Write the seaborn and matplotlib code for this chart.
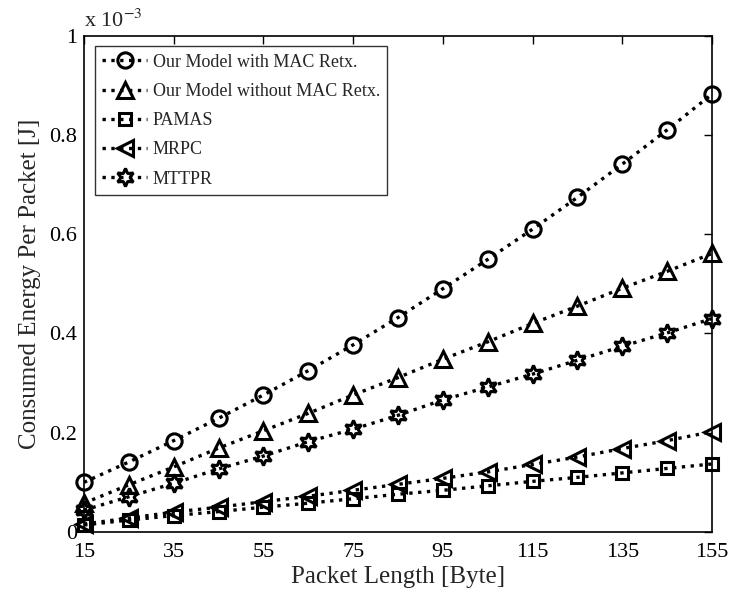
import matplotlib
matplotlib.use("Agg")
import matplotlib.pyplot as plt
import seaborn as sns
import pandas as pd

packet_length = [15, 25, 35, 45, 55, 65, 75, 85, 95, 105, 115, 125, 135, 145, 155]
# values in units of 1e-3 J
with_mac = [0.100, 0.141, 0.184, 0.229, 0.276, 0.325, 0.377, 0.432, 0.490, 0.549, 0.610, 0.674, 0.741, 0.810, 0.882]
without_mac = [0.058, 0.095, 0.131, 0.169, 0.204, 0.239, 0.276, 0.311, 0.348, 0.383, 0.420, 0.455, 0.491, 0.525, 0.561]
pamas = [0.014, 0.024, 0.033, 0.041, 0.050, 0.058, 0.067, 0.076, 0.084, 0.093, 0.102, 0.110, 0.119, 0.128, 0.137]
mrpc = [0.016, 0.028, 0.040, 0.050, 0.061, 0.072, 0.084, 0.096, 0.108, 0.121, 0.136, 0.151, 0.168, 0.184, 0.202]
mttpr = [0.044, 0.071, 0.098, 0.127, 0.153, 0.182, 0.207, 0.235, 0.266, 0.292, 0.318, 0.346, 0.374, 0.401, 0.430]

series_names = ["Our Model with MAC Retx.", "Our Model without MAC Retx.", "PAMAS", "MRPC", "MTTPR"]
series_values = [with_mac, without_mac, pamas, mrpc, mttpr]
markers = ["o", "^", "s", "<", (6, 1, 0)]
msizes = [11, 12, 9, 12, 13]

x_ticks = [15, 35, 55, 75, 95, 115, 135, 155]
y_ticks = [0, 0.2, 0.4, 0.6, 0.8, 1.0]
y_ticklabels = ["0", "0.2", "0.4", "0.6", "0.8", "1"]

sns.set_theme(style="white")
plt.rcParams["font.family"] = ["Liberation Serif", "DejaVu Serif"]
plt.rcParams["mathtext.fontset"] = "stix"

fig = plt.figure(figsize=(7.31, 5.93), dpi=100)
ax = fig.add_axes([0.1149, 0.1029, 0.974 - 0.1149, 0.940 - 0.1029])

for name, vals, mk, ms in zip(series_names, series_values, markers, msizes):
    df = pd.DataFrame({"x": packet_length, "y": vals})
    sns.lineplot(data=df, x="x", y="y", ax=ax, color="black", linestyle=":",
                 linewidth=2.4, marker=mk, markersize=ms, markerfacecolor="none",
                 markeredgecolor="black", markeredgewidth=2.2, label=name,
                 clip_on=False)

ax.set_xlim(15, 155)
ax.set_ylim(0, 1.0)
ax.set_xticks(x_ticks)
ax.set_yticks(y_ticks)
ax.set_yticklabels(y_ticklabels)
ax.tick_params(axis="both", direction="in", length=6, width=1, labelsize=16,
               top=True, right=True, colors="black")
ax.tick_params(axis="x", pad=8)
ax.tick_params(axis="y", pad=5)
for sp in ax.spines.values():
    sp.set_color("black")
    sp.set_linewidth(1.2)
    sp.set_visible(True)

ax.set_xlabel("Packet Length [Byte]", fontsize=18, labelpad=3)
ax.set_ylabel("Consumed Energy Per Packet [J]", fontsize=18, labelpad=6)
ax.text(0.0, 1.008, r"x 10$^{-3}$", transform=ax.transAxes, fontsize=16,
        ha="left", va="bottom")

leg = ax.legend(loc="upper left", fontsize=13, frameon=True, fancybox=False,
                edgecolor="black", handlelength=2.5, handletextpad=0.3,
                borderpad=0.4, labelspacing=0.68, borderaxespad=0.6)
leg.get_frame().set_linewidth(1.0)

fig.savefig("out.png", dpi=100, facecolor="white")
